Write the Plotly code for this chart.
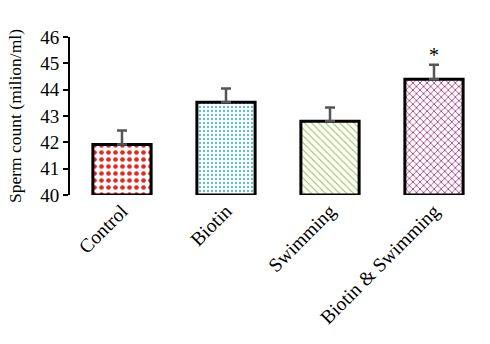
import plotly.graph_objects as go

categories = ["Control", "Biotin", "Swimming", "Biotin & Swimming"]
means = [41.92, 43.52, 42.8, 44.4]
errors = [0.53, 0.52, 0.52, 0.55]
significance = ["", "", "", "*"]
y_ticks = [40, 41, 42, 43, 44, 45, 46]

pattern_shapes = [".", ".", "\\", "x"]
pattern_colors = ["#e8281e", "#6cc0c4", "#8dc63f", "#a3307e"]
pattern_sizes = [7, 4, 5, 5]
pattern_solidity = [0.35, 0.3, 0.2, 0.3]

fig = go.Figure()
fig.add_trace(go.Bar(
    x=categories, y=[m - 40 for m in means], base=40,
    width=0.56,
    marker=dict(
        color="white",
        line=dict(color="black", width=3),
        pattern=dict(shape=pattern_shapes, fgcolor=pattern_colors, bgcolor="white",
                     size=pattern_sizes, solidity=pattern_solidity, fillmode="replace",
                     fgopacity=1),
    ),
    error_y=dict(type="data", array=errors, arrayminus=[0]*4, symmetric=False,
                 color="#555555", thickness=2.5, width=5),
    showlegend=False,
))

for c, m, e, s in zip(categories, means, errors, significance):
    if s:
        fig.add_annotation(x=c, y=m + e, text=s, showarrow=False, yanchor="bottom",
                           yshift=-3, font=dict(family="Liberation Serif", size=20, color="black"))

fig.update_layout(
    width=490, height=344,
    margin=dict(l=70, r=4, t=37, b=149),
    paper_bgcolor="white", plot_bgcolor="white",
    font=dict(family="Liberation Serif", color="black"),
)
fig.update_xaxes(showline=False, tickangle=-45, tickfont=dict(size=19.5), ticks="")
fig.update_yaxes(range=[40, 46], tickvals=y_ticks, showline=True, linecolor="black", linewidth=2,
                 ticks="outside", ticklen=5, tickwidth=2, tickcolor="black",
                 showgrid=False, zeroline=False, tickfont=dict(size=19),
                 title=dict(text="Sperm count (milion/ml)", font=dict(size=17.5), standoff=14))

fig.write_html("out.html")
